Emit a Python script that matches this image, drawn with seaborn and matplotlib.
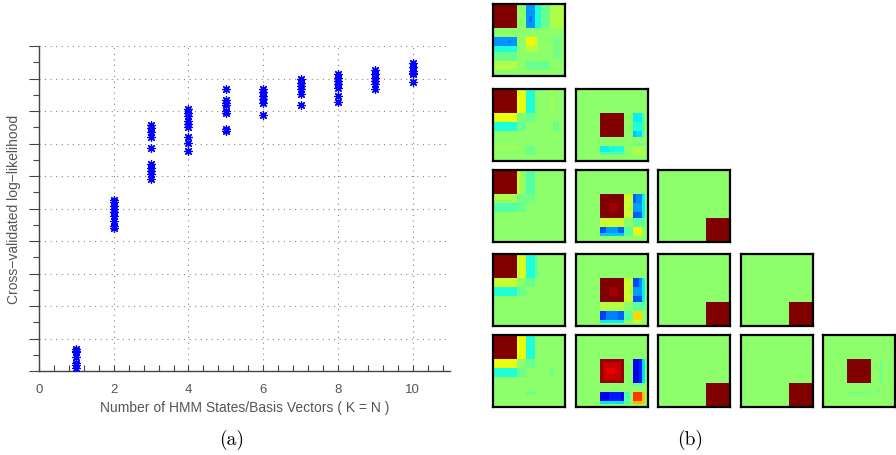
import numpy as np
import pandas as pd
import matplotlib
matplotlib.use("Agg")
import matplotlib.pyplot as plt
import seaborn as sns
from matplotlib.ticker import MultipleLocator

# ---------------- data: panel (a) ----------------
k_values = [1, 2, 3, 4, 5, 6, 7, 8, 9, 10]
ll_k1 = [0.69, 0.62, 0.57, 0.44, 0.26, 0.18, 0.10]
ll_k2 = [5.27, 5.19, 5.09, 4.98, 4.88, 4.78, 4.62, 4.47, 4.41]
ll_k3 = [7.56, 7.49, 7.34, 7.21, 6.86, 6.36, 6.26, 6.15, 6.05, 5.90]
ll_k4 = [8.05, 7.95, 7.85, 7.69, 7.59, 7.52, 7.21, 7.03, 6.77]
ll_k5 = [8.67, 8.34, 8.26, 8.18, 8.00, 7.93, 7.46, 7.38]
ll_k6 = [8.67, 8.57, 8.46, 8.38, 8.26, 7.87]
ll_k7 = [8.98, 8.87, 8.77, 8.67, 8.51, 8.18]
ll_k8 = [9.13, 9.03, 8.92, 8.82, 8.72, 8.46, 8.28]
ll_k9 = [9.26, 9.13, 9.03, 8.92, 8.82, 8.69]
ll_k10 = [9.47, 9.34, 9.23, 9.18, 9.13, 8.89]
x_ticklabels = ["0", "2", "4", "6", "8", "10"]

# ---------------- data: panel (b) ----------------
# each matrix: background value + patches (row0, row1, col0, col1, value) on a 24x24 grid
grid_n = 24
bg_value = 0.52
m11 = [(0, 8, 0, 8, 1.0), (0, 8, 11, 14, 0.27), (4, 6, 12, 13, 0.24), (0, 8, 14, 16, 0.39),
       (0, 8, 16, 19, 0.48), (0, 8, 19, 24, 0.56), (11, 14, 0, 8, 0.27), (12, 13, 5, 6, 0.24),
       (14, 16, 0, 8, 0.39), (16, 19, 0, 8, 0.48), (19, 22, 0, 8, 0.56), (11, 14, 11, 14, 0.65),
       (11, 14, 14, 15, 0.58), (14, 16, 11, 15, 0.57), (11, 18, 20, 23, 0.49), (19, 22, 11, 19, 0.48)]
m21 = [(0, 8, 0, 8, 1.0), (0, 8, 8, 11, 0.63), (0, 8, 11, 14, 0.39), (8, 11, 0, 8, 0.63),
       (11, 14, 0, 8, 0.39), (8, 11, 8, 11, 0.50), (8, 11, 11, 14, 0.48), (11, 14, 8, 11, 0.48),
       (0, 8, 19, 20, 0.55), (11, 14, 20, 22, 0.48), (19, 20, 0, 8, 0.55), (19, 22, 11, 14, 0.48)]
m22 = [(8, 16, 8, 16, 1.0), (8, 11, 19, 22, 0.36), (11, 14, 19, 22, 0.39), (14, 16, 19, 22, 0.34),
       (14, 16, 19, 20, 0.32), (8, 16, 22, 23, 0.45), (19, 21, 8, 11, 0.36), (19, 21, 11, 16, 0.39),
       (21, 22, 8, 16, 0.45), (19, 22, 19, 23, 0.56), (18, 19, 19, 23, 0.48)]
m31 = [(0, 8, 0, 8, 1.0), (0, 8, 8, 9, 0.59), (0, 8, 9, 11, 0.53), (0, 8, 11, 14, 0.45),
       (8, 10, 0, 8, 0.56), (10, 11, 0, 8, 0.53), (11, 14, 0, 8, 0.45), (8, 11, 8, 14, 0.49),
       (11, 14, 8, 11, 0.48)]
m32 = [(8, 16, 8, 16, 1.0), (11, 14, 11, 14, 0.97), (8, 16, 16, 19, 0.59), (8, 11, 19, 20, 0.22),
       (8, 11, 20, 22, 0.26), (11, 14, 19, 22, 0.28), (14, 16, 19, 22, 0.22), (8, 16, 22, 23, 0.36),
       (16, 19, 8, 16, 0.59), (16, 19, 16, 19, 0.52), (16, 19, 19, 23, 0.46), (19, 22, 8, 10, 0.20),
       (19, 22, 10, 14, 0.28), (19, 22, 14, 16, 0.22), (21, 22, 8, 16, 0.32), (19, 22, 16, 19, 0.46),
       (19, 21, 19, 22, 0.65), (21, 22, 19, 22, 0.59)]
m41 = [(0, 8, 0, 8, 1.0), (0, 8, 8, 9, 0.59), (0, 8, 9, 11, 0.61), (0, 8, 11, 14, 0.39),
       (0, 8, 14, 15, 0.47), (8, 11, 0, 8, 0.59), (11, 14, 0, 8, 0.39), (8, 11, 8, 11, 0.52),
       (8, 11, 11, 14, 0.48), (11, 14, 8, 11, 0.48)]
m42 = [(8, 16, 8, 16, 1.0), (11, 14, 11, 14, 0.97), (8, 16, 16, 19, 0.59), (8, 11, 19, 21, 0.20),
       (8, 11, 21, 22, 0.26), (11, 14, 19, 22, 0.28), (14, 16, 19, 22, 0.21), (8, 16, 22, 23, 0.36),
       (16, 19, 8, 16, 0.57), (16, 19, 16, 19, 0.52), (16, 19, 19, 23, 0.46), (19, 22, 8, 10, 0.19),
       (19, 22, 10, 14, 0.25), (19, 22, 14, 16, 0.22), (22, 23, 8, 16, 0.36), (19, 22, 16, 19, 0.46),
       (19, 22, 19, 22, 0.68), (22, 23, 19, 22, 0.59)]
m51 = [(0, 8, 0, 8, 1.0), (0, 8, 8, 11, 0.63), (0, 8, 11, 14, 0.39), (8, 11, 0, 8, 0.63),
       (11, 14, 0, 8, 0.39), (8, 11, 8, 11, 0.52), (8, 11, 11, 14, 0.48), (11, 14, 8, 11, 0.48),
       (11, 14, 19, 20, 0.48), (19, 20, 11, 14, 0.48)]
m52 = [(8, 16, 8, 16, 0.98), (9, 15, 9, 15, 0.94), (10, 14, 10, 14, 0.93), (11, 13, 10, 13, 0.91),
       (8, 16, 19, 21, 0.10), (8, 16, 21, 22, 0.16), (8, 16, 22, 23, 0.34), (16, 17, 19, 23, 0.48),
       (19, 22, 8, 16, 0.10), (19, 22, 11, 15, 0.15), (22, 23, 8, 16, 0.35), (19, 23, 16, 18, 0.45),
       (19, 22, 19, 22, 0.85), (22, 23, 19, 22, 0.72), (19, 23, 22, 23, 0.70)]
m_corner = [(16, 24, 16, 24, 1.0)]
m55 = [(8, 16, 8, 16, 1.0), (8, 16, 19, 20, 0.49), (19, 20, 8, 16, 0.49), (18, 19, 18, 19, 0.49)]

matrix_rows = [
    [m11],
    [m21, m22],
    [m31, m32, m_corner],
    [m41, m42, m_corner, m_corner],
    [m51, m52, m_corner, m_corner, m55],
]

# ---------------- figure ----------------
W, H = 896, 456
fig = plt.figure(figsize=(W / 100, H / 100), dpi=100)
plt.rcParams["font.family"] = ["Liberation Sans", "DejaVu Sans"]
grey = "#555555"

def px_axes(x0, y0, x1, y1):
    return fig.add_axes([x0 / W, 1 - y1 / H, (x1 - x0) / W, (y1 - y0) / H])

# panel (a)
series = [ll_k1, ll_k2, ll_k3, ll_k4, ll_k5, ll_k6, ll_k7, ll_k8, ll_k9, ll_k10]
df = pd.DataFrame({
    "K": np.concatenate([[k] * len(v) for k, v in zip(k_values, series)]),
    "LL": np.concatenate(series),
})
ax = px_axes(39, 47, 450, 372)
sns.scatterplot(data=df, x="K", y="LL", ax=ax, marker=(8, 2, 0), s=32,
                color="#0000ff", edgecolor="#0000ff", linewidth=0.9, legend=False, zorder=3)
ax.set_xlim(0, 11)
ax.set_ylim(0, 10)
ax.xaxis.set_major_locator(MultipleLocator(2))
ax.xaxis.set_minor_locator(MultipleLocator(0.4))
ax.yaxis.set_major_locator(MultipleLocator(1))
ax.yaxis.set_minor_locator(MultipleLocator(0.5))
ax.set_xticks([0, 2, 4, 6, 8, 10])
ax.set_xticklabels(x_ticklabels)
ax.set_yticklabels([])
ax.tick_params(axis="x", which="both", direction="in", length=4, width=0.8, color="#444444",
               labelcolor=grey, labelsize=9.5, pad=9)
ax.tick_params(axis="y", which="major", direction="out", length=7, width=0.8, color="#444444")
ax.tick_params(axis="y", which="minor", direction="out", length=4, width=0.8, color="#444444")
for s in ["top", "right"]:
    ax.spines[s].set_visible(False)
for s in ["left", "bottom"]:
    ax.spines[s].set_color("#444444")
    ax.spines[s].set_linewidth(1.0)
ax.grid(True, which="major", linestyle=(0, (1, 4)), color="#888888", linewidth=0.8)
ax.set_axisbelow(True)
ax.set_xlabel("Number of HMM States/Basis Vectors ( K = N )", color=grey, fontsize=10, labelpad=3)
ax.set_ylabel("Cross\u2212validated log\u2212likelihood", color=grey, fontsize=10)
ax.yaxis.set_label_coords(-0.044, 0.5)

# panel (b)
col_x = [493, 575.5, 658, 740.5, 823]
row_y = [5, 89.5, 171, 255, 335.5]
size = 72
cmap = plt.get_cmap("jet")
for i, row in enumerate(matrix_rows):
    for j, patches in enumerate(row):
        grid = np.full((grid_n, grid_n), bg_value)
        for r0, r1, c0, c1, v in patches:
            grid[r0:r1, c0:c1] = v
        mx = px_axes(col_x[j], row_y[i], col_x[j] + size, row_y[i] + size)
        sns.heatmap(grid, ax=mx, cmap=cmap, vmin=0, vmax=1, cbar=False,
                    xticklabels=False, yticklabels=False)
        mx.set_xticks([])
        mx.set_yticks([])
        for sp in mx.spines.values():
            sp.set_visible(True)
            sp.set_color("black")
            sp.set_linewidth(1.6)

fig.text(232 / W, 1 - 440 / H, "(a)", ha="center", va="center", fontsize=14, family="cmr10")
fig.text(690 / W, 1 - 440 / H, "(b)", ha="center", va="center", fontsize=14, family="cmr10")

fig.savefig("out.png", dpi=100)
